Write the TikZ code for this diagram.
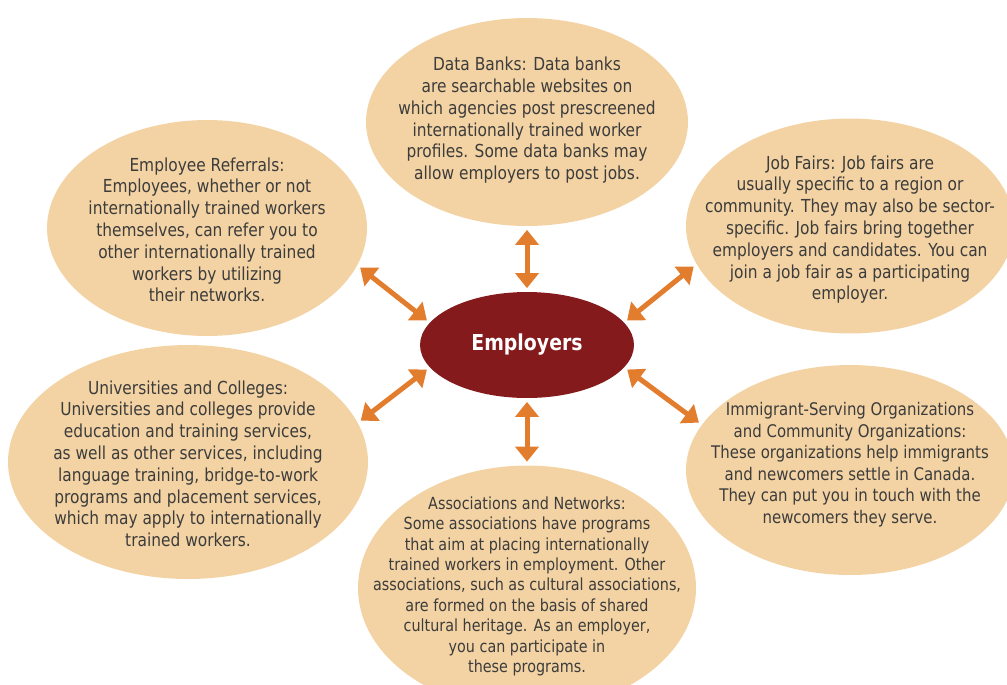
\documentclass[tikz,border=0pt]{standalone}
\usepackage{fontspec}
\setmainfont{DejaVu Sans}[FakeStretch=0.86]
\usetikzlibrary{shapes.geometric, arrows.meta}

\definecolor{bubble}{HTML}{F3D3A3}
\definecolor{arrowor}{HTML}{E37D2E}
\definecolor{employ}{HTML}{841A1C}
\definecolor{bodytxt}{HTML}{3C3C3C}

\begin{document}
\begin{tikzpicture}[x=0.02cm, y=-0.02cm,
    bubble/.style={ellipse, fill=bubble, draw=none, inner sep=0pt},
    bubbletxt/.style={align=center, inner sep=0pt, text=bodytxt,
        font=\fontsize{10.2}{12.4}\selectfont},
    hub/.style={ellipse, fill=employ, inner sep=0pt, text=white,
        font=\fontsize{12.5}{15}\selectfont\bfseries},
    link/.style={arrowor, line width=0.1cm, {Triangle[width=0.46cm, length=0.3cm]}-{Triangle[width=0.46cm, length=0.3cm]},
        shorten <=2pt, shorten >=2pt}]

    % --- 1. 画面サイズ ---
    \useasboundingbox (0,0) rectangle (1007,684);

    % --- 2. 周囲のバブル ---
    \node[bubble, minimum width=6.44cm, minimum height=4.16cm] (db) at (527,122) {};
    \node[bubble, minimum width=6.4cm, minimum height=4.32cm] (er) at (207,228) {};
    \node[bubble, minimum width=6.56cm, minimum height=4.3cm] (jf) at (850,226) {};
    \node[bubble, minimum width=7.2cm, minimum height=4.68cm] (uc) at (188,462) {};
    \node[bubble, minimum width=6.56cm, minimum height=4.2cm] (is) at (850,470) {};
    \node[bubble, minimum width=6.76cm, minimum height=4.9cm] (an) at (527,588) {};

    % バブルの説明文
    \node[bubbletxt] (db-t) at ([yshift=1pt]db.center)
        {Data Banks: Data banks\\are searchable websites on\\which agencies post prescreened\\internationally trained worker\\profiles. Some data banks may\\allow employers to post jobs.};
    \node[bubbletxt] (er-t) at ([yshift=-1pt]er.center)
        {Employee Referrals:\\Employees, whether or not\\internationally trained workers\\themselves, can refer you to\\other internationally trained\\workers by utilizing\\their networks.};
    \node[bubbletxt] (jf-t) at ([yshift=-2pt]jf.center)
        {Job Fairs: Job fairs are\\usually specific to a region or\\community. They may also be sector-\\specific. Job fairs bring together\\employers and candidates. You can\\join a job fair as a participating\\employer.};
    \node[bubbletxt] (uc-t) at ([yshift=-1pt]uc.center)
        {Universities and Colleges:\\Universities and colleges provide\\education and training services,\\as well as other services, including\\language training, bridge-to-work\\programs and placement services,\\which may apply to internationally\\trained workers.};
    \node[bubbletxt, font=\fontsize{9.9}{12.3}\selectfont] (is-t) at ([yshift=3pt]is.center)
        {Immigrant-Serving Organizations\\and Community Organizations:\\These organizations help immigrants\\and newcomers settle in Canada.\\They can put you in touch with the\\newcomers they serve.};
    \node[bubbletxt, font=\fontsize{9.5}{11.6}\selectfont] (an-t) at ([yshift=1pt]an.center)
        {Associations and Networks:\\Some associations have programs\\that aim at placing internationally\\trained workers in employment. Other\\associations, such as cultural associations,\\are formed on the basis of shared\\cultural heritage. As an employer,\\you can participate in\\these programs.};

    % --- 3. 中央ノード ---
    \node[hub, minimum width=4.28cm, minimum height=2.12cm] (emp) at (527,345) {Employers};

    % --- 4. 双方向の矢印 ---
    \draw[link] (emp.north) -- (db.south);
    \draw[link] (emp.south) -- (an.north);
    \draw[link] (emp.167) -- (er.-14);
    \draw[link] (emp.13) -- (jf.194);
    \draw[link] (emp.193) -- (uc.13);
    \draw[link] (emp.-13) -- (is.163);

\end{tikzpicture}
\end{document}
